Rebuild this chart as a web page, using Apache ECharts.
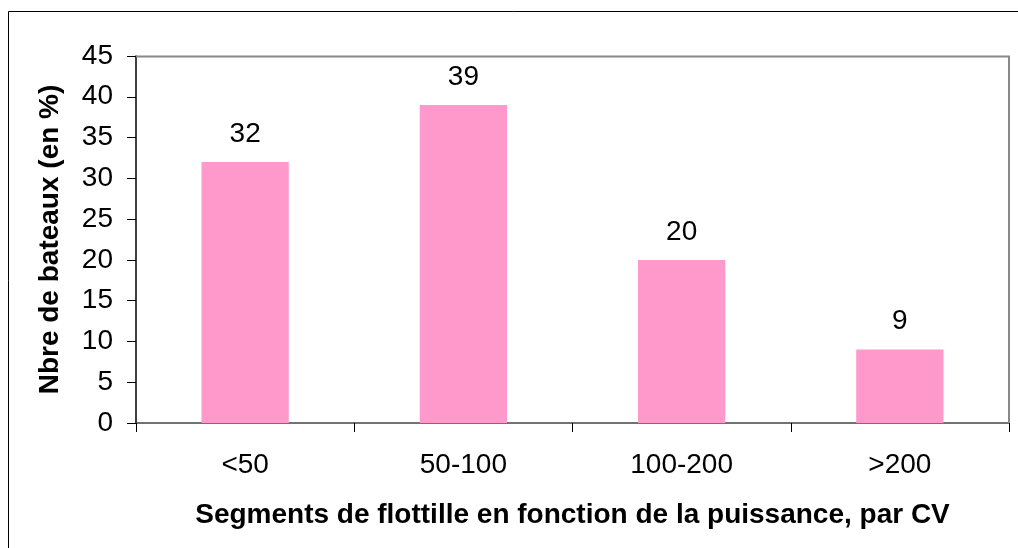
<!DOCTYPE html>
<html>
<head>
<meta charset="utf-8">
<script src="https://cdn.jsdelivr.net/npm/echarts@6/dist/echarts.min.js"></script>
<style>
  html, body { margin: 0; padding: 0; background: #fff; }
  #chart { width: 1018px; height: 548px; }
</style>
</head>
<body>
<div id="chart"></div>
<script>
// segments de puissance (CV)
var categories = ['<50', '50-100', '100-200', '>200'];
// part des bateaux (%)
var values = [32, 39, 20, 9];

var font = 'Liberation Sans, Arial, sans-serif';

var chart = echarts.init(document.getElementById('chart'));
chart.setOption({
  animation: false,
  backgroundColor: '#fff',
  graphic: [{
    type: 'rect',
    shape: { x: 8.5, y: 11.5, width: 1100, height: 600 },
    style: { fill: 'none', stroke: '#000', lineWidth: 1 },
    silent: true
  }, {
    // cadre gris de la zone de tracé (haut + droite)
    type: 'polyline',
    shape: { points: [[136, 56.5], [1009, 56.5], [1009, 423]] },
    style: { fill: 'none', stroke: '#888', lineWidth: 2 },
    silent: true,
    z: 5
  }],
  grid: { left: 136, top: 56, right: 9, bottom: 125 },
  xAxis: {
    type: 'category',
    data: categories,
    name: 'Segments de flottille en fonction de la puissance, par CV',
    nameLocation: 'middle',
    nameGap: 78,
    nameTextStyle: { fontFamily: font, fontSize: 28, fontWeight: 'bold', color: '#000' },
    axisLine: { lineStyle: { color: '#444', width: 1.5 } },
    axisTick: { show: true, length: 9, lineStyle: { color: '#000' } },
    axisLabel: { margin: 28, fontFamily: font, fontSize: 28, color: '#000' }
  },
  yAxis: {
    type: 'value',
    min: 0,
    max: 45,
    interval: 5,
    name: 'Nbre de bateaux (en %)',
    nameLocation: 'middle',
    nameGap: 72,
    nameRotate: 90,
    nameTextStyle: { fontFamily: font, fontSize: 28, fontWeight: 'bold', color: '#000' },
    axisLine: { show: true, lineStyle: { color: '#000', width: 1.5 } },
    axisTick: { show: true, length: 9, lineStyle: { color: '#000' } },
    axisLabel: { margin: 23, fontFamily: font, fontSize: 28, color: '#000' },
    splitLine: { show: false }
  },
  series: [{
    type: 'bar',
    data: values,
    barWidth: '40%',
    itemStyle: { color: '#FF99CC' },
    label: {
      show: true,
      position: 'top',
      distance: 14,
      fontFamily: font,
      fontSize: 28,
      color: '#000'
    }
  }]
});
</script>
</body>
</html>
